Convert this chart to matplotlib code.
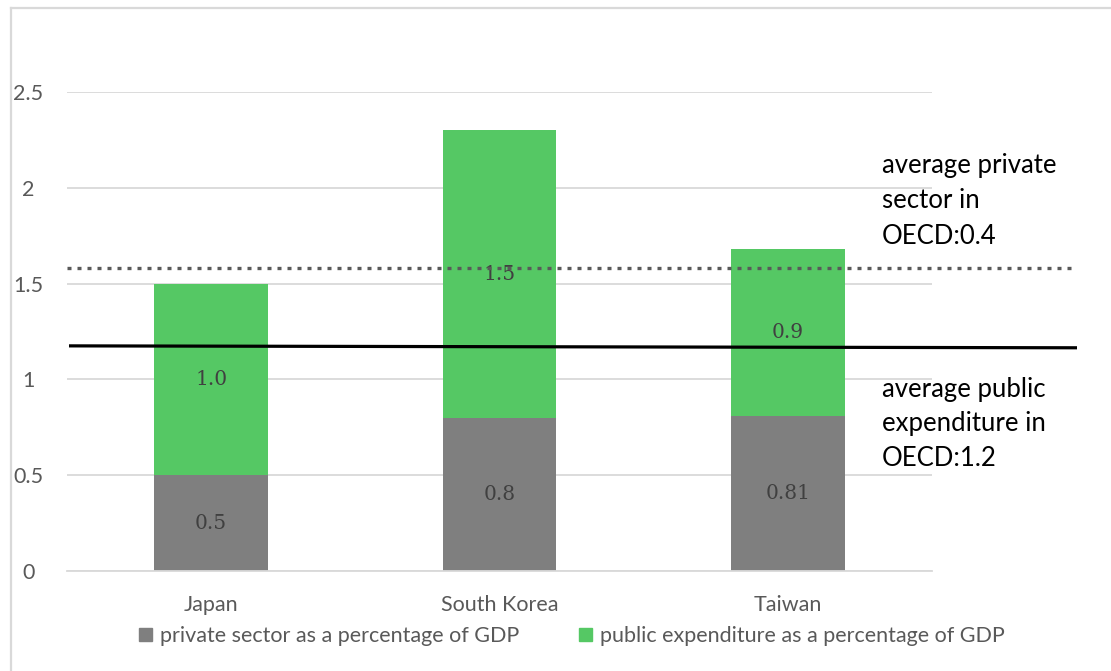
import matplotlib
matplotlib.use("Agg")
import matplotlib.pyplot as plt
from matplotlib.lines import Line2D
from matplotlib.patches import Patch

categories = ["Japan", "South Korea", "Taiwan"]
private_share = [0.50, 0.80, 0.81]
public_share = [1.00, 1.50, 0.87]
private_labels = ["0.5", "0.8", "0.81"]
public_labels = ["1.0", "1.5", "0.9"]
oecd_private_line = 1.58          # dotted reference line (drawn shape)
oecd_public_line = [1.175, 1.165]  # solid reference line (slightly tilted)
yticks = [0, 0.5, 1, 1.5, 2, 2.5]
ytick_labels = ["0", "0.5", "1", "1.5", "2", "2.5"]

GRAY = "#7f7f7f"
GREEN = "#55c864"
TXT = "#595959"
SANS = "Lato"

fig = plt.figure(figsize=(11.11, 6.71), dpi=100)
W, H = 1111, 671
ax = fig.add_axes([67 / W, 1 - 571 / H, (932 - 67) / W, (571 - 92) / H])

x = list(range(len(categories)))
bw = 0.395
ax.bar(x, private_share, width=bw, color=GRAY, zorder=2)
ax.bar(x, public_share, width=bw, bottom=private_share, color=GREEN, zorder=2)

for i in x:
    ax.text(i, private_share[i] / 2, private_labels[i], ha="center", va="center",
            fontsize=14.5, color="#404040", family="DejaVu Serif", zorder=4)
    ax.text(i, private_share[i] + public_share[i] / 2, public_labels[i], ha="center",
            va="center", fontsize=14.5, color="#404040", family="DejaVu Serif", zorder=4)

ax.set_xlim(-0.5, 2.5)
ax.set_ylim(0, 2.5)
ax.set_yticks(yticks)
ax.set_yticklabels(ytick_labels, fontsize=15.5, color=TXT, family=SANS)
ax.set_xticks(x)
ax.set_xticklabels(categories, fontsize=15.5, color=TXT, family=SANS)
ax.tick_params(axis="both", length=0)
ax.tick_params(axis="y", pad=28)
ax.tick_params(axis="x", pad=17)
for lab in ax.get_yticklabels():
    lab.set_horizontalalignment("center")
ax.grid(axis="y", color="#d9d9d9", linewidth=1.3, zorder=0)
ax.set_axisbelow(True)
for s in ["top", "right", "left"]:
    ax.spines[s].set_visible(False)
ax.spines["bottom"].set_color("#d9d9d9")
ax.spines["bottom"].set_linewidth(1.3)

# reference lines (extend beyond the plot area like drawn shapes)
x_right = -0.5 + (1077 - 67) / ((932 - 67) / 3)
ax.plot([-0.5, x_right], [oecd_private_line, oecd_private_line], color="#595959",
        linewidth=2.4, linestyle=(0, (1.2, 1.8)), dash_capstyle="butt",
        clip_on=False, zorder=5)
x_left2 = -0.5 + (69 - 67) / ((932 - 67) / 3)
ax.plot([x_left2, x_right], oecd_public_line, color="black", linewidth=2.3,
        solid_capstyle="butt", clip_on=False, zorder=5)

# annotations
fig.text(882 / W, 1 - 201 / H, "average private\nsector in\nOECD:0.4", ha="left",
         va="center", fontsize=18.5, color="black", family=SANS, linespacing=1.5)
fig.text(882 / W, 1 - 424 / H, "average public\nexpenditure in\nOECD:1.2", ha="left",
         va="center", fontsize=18.5, color="black", family=SANS, linespacing=1.5)

# legend
handles = [Patch(color=GRAY), Patch(color=GREEN)]
leg = fig.legend(handles, ["private sector as a percentage of GDP",
                           "public expenditure as a percentage of GDP"],
                 loc="center", bbox_to_anchor=(572 / W, 1 - 636 / H), ncol=2,
                 frameon=False, prop={"family": SANS, "size": 15.5},
                 handlelength=0.6, handleheight=0.6, handletextpad=0.35,
                 columnspacing=2.8)
for t in leg.get_texts():
    t.set_color(TXT)

# chart border
fig.add_artist(Line2D([11 / W, 11 / W], [0, 1 - 8 / H], color="#d9d9d9",
                      linewidth=1.6, transform=fig.transFigure))
fig.add_artist(Line2D([11 / W, 1], [1 - 8 / H, 1 - 8 / H], color="#d9d9d9",
                      linewidth=1.6, transform=fig.transFigure))

fig.savefig("out.png", dpi=100)
